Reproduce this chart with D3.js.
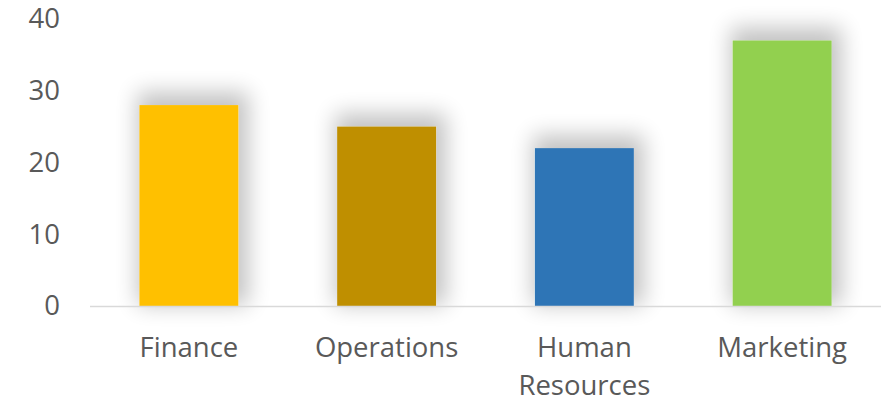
<!DOCTYPE html>
<html>
<head>
<meta charset="utf-8">
<script src="https://cdn.jsdelivr.net/npm/d3@7"></script>
<style>
  html, body { margin: 0; padding: 0; background: #fff; }
  svg { display: block; }
  text { font-family: "Open Sans", "Noto Sans", sans-serif; fill: #595959; }
</style>
</head>
<body>
<svg id="chart" width="894" height="402"></svg>
<script>
// Headcount by department
const categories = ["Finance", "Operations", "Human Resources", "Marketing"];
const values = [28, 25, 22, 37];
const barColors = ["#FFC000", "#BF8F00", "#2E75B6", "#92D050"];
const yTicks = [0, 10, 20, 30, 40];

const width = 894, height = 402;
const margin = { top: 19, right: 13, bottom: 96, left: 90 };
const fontSize = 27.5;

const svg = d3.select("#chart");

// soft, wide outer shadow behind each bar
const defs = svg.append("defs");
const f = defs.append("filter").attr("id", "barShadow")
  .attr("x", "-80%").attr("y", "-40%").attr("width", "260%").attr("height", "180%");
f.append("feMorphology").attr("in", "SourceAlpha").attr("operator", "dilate").attr("radius", 6).attr("result", "grown");
f.append("feGaussianBlur").attr("in", "grown").attr("stdDeviation", 11).attr("result", "blur");
f.append("feOffset").attr("in", "blur").attr("dx", 4).attr("dy", -7).attr("result", "off");
f.append("feComponentTransfer").attr("in", "off").attr("result", "shadow")
  .append("feFuncA").attr("type", "linear").attr("slope", 0.24);
const merge = f.append("feMerge");
merge.append("feMergeNode").attr("in", "shadow");
merge.append("feMergeNode").attr("in", "SourceGraphic");

const x = d3.scaleBand()
  .domain(categories)
  .range([margin.left, width - margin.right])
  .paddingInner(0.5)
  .paddingOuter(0.25);

const y = d3.scaleLinear()
  .domain([0, 40])
  .range([height - margin.bottom, margin.top]);

// y axis labels (no line, no ticks)
const yAxis = svg.append("g")
  .attr("transform", `translate(${margin.left},0)`)
  .call(d3.axisLeft(y).tickValues(yTicks).tickSize(0).tickPadding(30));
yAxis.select(".domain").remove();
yAxis.selectAll("text")
  .attr("font-size", fontSize)
  .attr("fill", "#595959")
  .style("font-family", "'Open Sans', 'Noto Sans', sans-serif");

// bars
svg.append("g").selectAll("rect")
  .data(categories)
  .join("rect")
  .attr("x", d => x(d))
  .attr("width", x.bandwidth())
  .attr("y", (d, i) => y(values[i]))
  .attr("height", (d, i) => y(0) - y(values[i]))
  .attr("fill", (d, i) => barColors[i])
  .attr("filter", "url(#barShadow)");

// category axis
const xAxis = svg.append("g")
  .attr("transform", `translate(0,${y(0)})`)
  .call(d3.axisBottom(x).tickSize(0).tickPadding(0));
xAxis.select(".domain")
  .attr("stroke", "#D9D9D9")
  .attr("stroke-width", 1.5)
  .attr("d", `M${margin.left},0.5H${width - margin.right}`);
xAxis.selectAll(".tick text").remove();

// wrapped category labels
const labelLines = { "Human Resources": ["Human", "Resources"] };
xAxis.selectAll(".tick").each(function (d) {
  const lines = labelLines[d] || [d];
  const t = d3.select(this).append("text")
    .attr("text-anchor", "middle")
    .attr("font-size", fontSize)
    .attr("fill", "#595959");
  lines.forEach((ln, i) => {
    t.append("tspan").attr("x", 0).attr("y", 51 + i * 38).text(ln);
  });
});
</script>
</body>
</html>
